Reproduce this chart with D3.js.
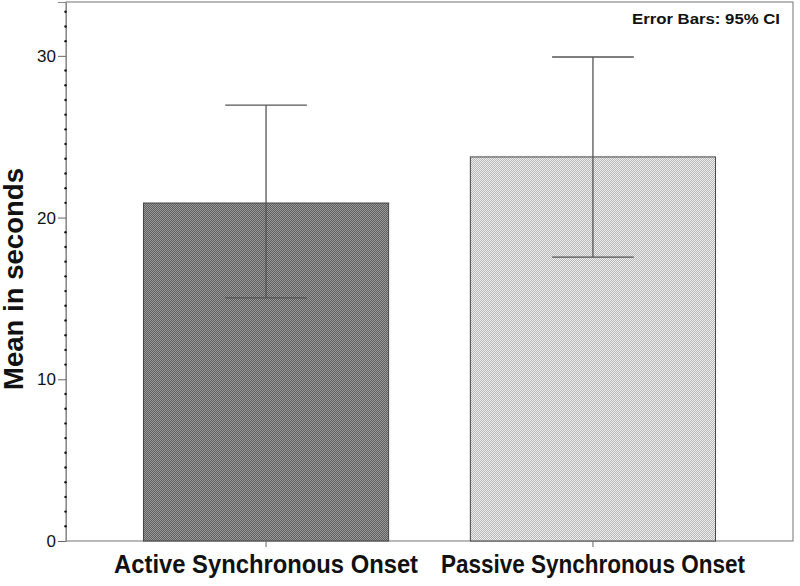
<!DOCTYPE html>
<html><head><meta charset="utf-8">
<script src="https://cdn.jsdelivr.net/npm/d3@7"></script>
<style>body{margin:0;background:#fff}svg{display:block}</style>
</head><body>
<svg id="c" width="800" height="586"></svg>
<script>
const categories = ["Active Synchronous Onset", "Passive Synchronous Onset"];
const means = [20.9, 23.75];
const ciLow = [15.03, 17.56];
const ciHigh = [26.95, 29.93];
const yTicks = [0, 10, 20, 30];
const yTitle = "Mean in seconds";
const note = "Error Bars: 95% CI";

const svg = d3.select("#c");
const L = 66, R = 793, T = 2, B = 541;
const FONT = "Liberation Sans, Arial, sans-serif";
const y = d3.scaleLinear().domain([0, 33.33]).range([B, T]);
const x = d3.scaleBand().domain(categories).range([L, R]).paddingInner(0.25).paddingOuter(0.237);

const defs = svg.append("defs");
function pat(id, a, b) {
  const p = defs.append("pattern").attr("id", id).attr("width", 2).attr("height", 2).attr("patternUnits", "userSpaceOnUse");
  p.append("rect").attr("width", 2).attr("height", 2).attr("fill", a);
  p.append("rect").attr("width", 1).attr("height", 1).attr("fill", b);
  p.append("rect").attr("x", 1).attr("y", 1).attr("width", 1).attr("height", 1).attr("fill", b);
}
pat("pDark", "#5e5e5e", "#9a9a9a");
pat("pLight", "#b8b8b8", "#ededed");
const fills = ["url(#pDark)", "url(#pLight)"];

// frame
svg.append("rect").attr("x", L).attr("y", T).attr("width", R - L).attr("height", B - T)
  .attr("fill", "none").attr("stroke", "#8a8a8a").attr("stroke-width", 1.2);

// bars
svg.selectAll("rect.bar").data(categories).enter().append("rect").attr("class", "bar")
  .attr("x", d => x(d)).attr("width", x.bandwidth())
  .attr("y", (d, i) => y(means[i])).attr("height", (d, i) => B - y(means[i]))
  .attr("fill", (d, i) => fills[i]).attr("stroke", "#444").attr("stroke-width", 1);

// error bars
const capW = x.bandwidth() / 3;
categories.forEach((c, i) => {
  const cx = x(c) + x.bandwidth() / 2;
  const g = svg.append("g").attr("stroke", "#555").attr("stroke-width", 1.3);
  g.append("line").attr("x1", cx).attr("x2", cx).attr("y1", y(ciHigh[i])).attr("y2", y(ciLow[i]));
  g.append("line").attr("x1", cx - capW / 2).attr("x2", cx + capW / 2).attr("y1", y(ciHigh[i])).attr("y2", y(ciHigh[i]));
  g.append("line").attr("x1", cx - capW / 2).attr("x2", cx + capW / 2).attr("y1", y(ciLow[i])).attr("y2", y(ciLow[i]));
});

// y axis
const yAxis = d3.axisLeft(y).tickValues(yTicks).tickSize(8).tickPadding(2).tickFormat(d3.format("d"));
const ya = svg.append("g").attr("transform", `translate(${L},0)`).call(yAxis);
ya.select(".domain").attr("stroke", "#8a8a8a");
ya.selectAll(".tick line").attr("stroke", "#666");
ya.selectAll("text").attr("font-family", FONT).attr("font-size", 17).attr("fill", "#111");
// minor dots (11 per major interval)
const step = 10 / 11;
const minor = d3.range(1, 37).filter(k => k % 11 !== 0).map(k => k * step).filter(v => v < 33.2);
svg.append("g").selectAll("circle").data(minor).enter().append("circle")
  .attr("cx", L - 0.5).attr("cy", d => y(d)).attr("r", 1.2).attr("fill", "#111");

// x axis ticks
const xAxis = d3.axisBottom(x).tickSize(6).tickPadding(0);
const xa = svg.append("g").attr("transform", `translate(0,${B})`).call(xAxis);
xa.select(".domain").remove();
xa.selectAll(".tick line").attr("stroke", "#666");
xa.selectAll("text").attr("dy", null).attr("y", 32).attr("font-family", FONT).attr("font-size", 25)
  .attr("font-weight", "bold").attr("fill", "#111")
  .attr("textLength", 304).attr("lengthAdjust", "spacingAndGlyphs");

// y title
svg.append("text").attr("transform", `translate(23,279) rotate(-90)`).attr("text-anchor", "middle")
  .attr("font-family", FONT).attr("font-size", 27).attr("font-weight", "bold")
  .attr("textLength", 222).attr("lengthAdjust", "spacingAndGlyphs")
  .attr("fill", "#111").text(yTitle);

// note
svg.append("text").attr("x", 780).attr("y", 24).attr("text-anchor", "end")
  .attr("font-family", FONT).attr("font-size", 14.5).attr("font-weight", "bold")
  .attr("textLength", 148).attr("lengthAdjust", "spacingAndGlyphs")
  .attr("fill", "#111").text(note);
</script>
</body></html>
